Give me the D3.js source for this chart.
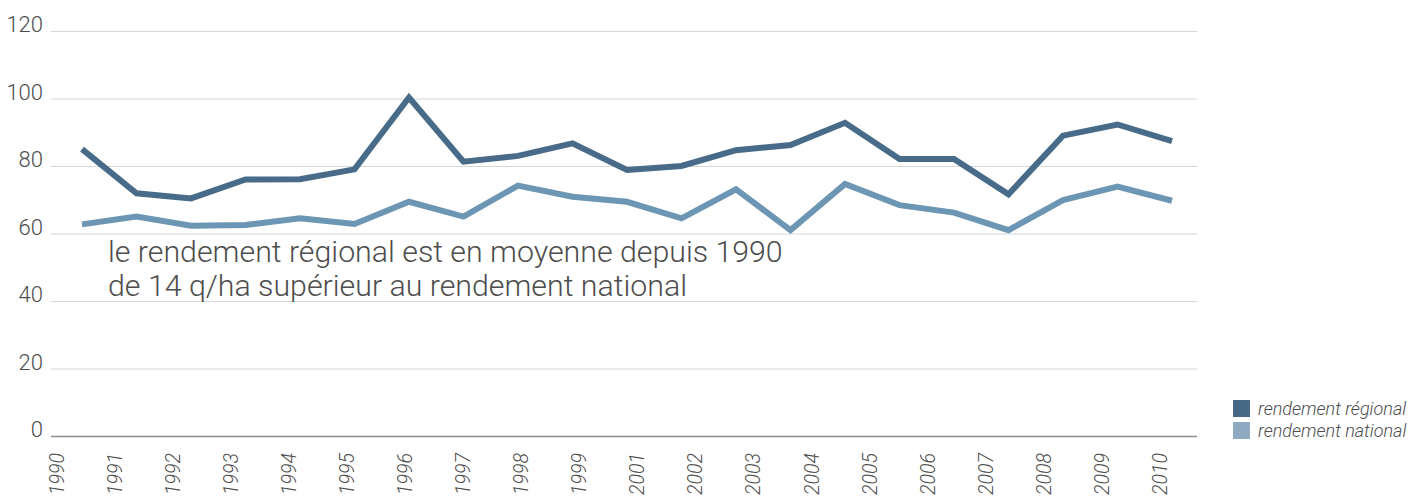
<!DOCTYPE html>
<html>
<head>
<meta charset="utf-8">
<script src="https://cdn.jsdelivr.net/npm/d3@7"></script>
<style>
  html, body { margin: 0; padding: 0; background: #fff; }
  svg { display: block; }
  text { font-family: Roboto, "Noto Sans", sans-serif; font-weight: 300; fill: #4d4d4d; }
</style>
</head>
<body>
<svg id="chart" width="1412" height="498"></svg>
<script>
const yearLabels = ["1990","1991","1992","1993","1994","1995","1996","1997","1998","1999",
                    "2001","2002","2003","2004","2005","2006","2007","2008","2009","2010"];
const regional = [85.0, 71.9, 70.4, 76.0, 76.1, 79.0, 100.3, 81.3, 83.0, 86.7, 78.8,
                  80.0, 84.7, 86.2, 92.8, 82.1, 82.1, 71.6, 89.0, 92.3, 87.4];
const national = [62.7, 65.0, 62.3, 62.5, 64.5, 62.8, 69.4, 65.0, 74.2, 70.9, 69.4,
                  64.5, 73.1, 61.0, 74.7, 68.4, 66.2, 61.0, 69.9, 73.9, 69.7];
const yTicks = [0, 20, 40, 60, 80, 100, 120];
const seriesNames = ["rendement régional", "rendement national"];
const lineColors = ["#476b88", "#6c96b4"];
const legendColors = ["#476985", "#8eaac2"];
const annotation = ["le rendement régional est en moyenne depuis 1990",
                    "de 14 q/ha supérieur au rendement national"];

const svg = d3.select("#chart");
const plotLeft = 51, plotRight = 1197;

const y = d3.scaleLinear().domain([0, 120]).range([436, 31]);
const xPts = d3.scalePoint().domain(d3.range(regional.length)).range([82, 1172]);
const xLab = d3.scalePoint().domain(yearLabels).range([56.5, 1160]);

// gridlines
svg.append("g").selectAll("line").data(yTicks).join("line")
  .attr("x1", plotLeft).attr("x2", plotRight)
  .attr("y1", d => y(d) + 0.5).attr("y2", d => y(d) + 0.5)
  .attr("stroke", d => d === 0 ? "#8c8c8c" : "#d6d6d6")
  .attr("stroke-width", d => d === 0 ? 1.5 : 1.2);

// y labels
svg.append("g").selectAll("text").data(yTicks).join("text")
  .attr("x", 43).attr("y", d => y(d) + 1)
  .attr("text-anchor", "end")
  .style("font-size", "22px")
  .text(d => d);

// x labels (rotated)
svg.append("g").selectAll("text").data(yearLabels).join("text")
  .attr("transform", d => `translate(${xLab(d) + 7},495) rotate(-90)`)
  .attr("text-anchor", "start")
  .style("font-size", "19.5px").style("font-style", "italic")
  .text(d => d);

// lines
const line = d3.line().x((d, i) => xPts(i)).y(d => y(d)).curve(d3.curveLinear);
[national, regional].forEach((s, k) => {
  svg.append("path").datum(s)
    .attr("d", line)
    .attr("fill", "none")
    .attr("stroke", k === 0 ? lineColors[1] : lineColors[0])
    .attr("stroke-width", 6)
    .attr("stroke-linejoin", "miter")
    .attr("stroke-linecap", "butt");
});

// annotation
svg.append("g").selectAll("text").data(annotation).join("text")
  .attr("x", 108).attr("y", (d, i) => 262 + i * 34)
  .style("font-size", "30.3px")
  .text(d => d);

// legend
const leg = svg.append("g").selectAll("g").data(seriesNames).join("g")
  .attr("transform", (d, i) => `translate(1233,${400 + i * 22})`);
leg.append("rect").attr("width", 17).attr("height", 17)
  .attr("fill", (d, i) => legendColors[i]);
leg.append("text").attr("x", 25).attr("y", 15)
  .style("font-size", "18px").style("font-style", "italic")
  .text(d => d);
</script>
</body>
</html>
